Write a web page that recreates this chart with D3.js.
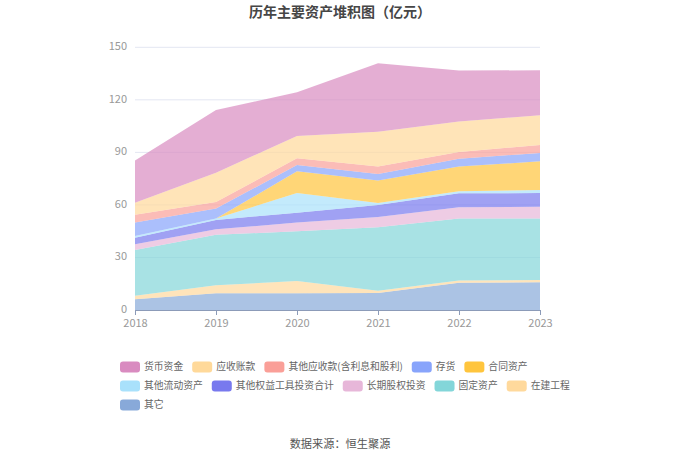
<!DOCTYPE html>
<html>
<head>
<meta charset="utf-8">
<script src="https://cdn.jsdelivr.net/npm/d3@7"></script>
<style>
  body { margin: 0; background: #fff; }
  svg { font-family: "Noto Sans CJK SC", "Noto Sans", sans-serif; }
</style>
</head>
<body>
<svg id="chart" width="680" height="460"></svg>
<script>
// years on the x axis
const years = ["2018", "2019", "2020", "2021", "2022", "2023"]
const yTicks = [0, 30, 60, 90, 120, 150]

// values in 亿元
const huobi = [24.0, 35.8, 24.9, 39.1, 29.1, 25.7]       // 货币资金
const yingshou = [6.9, 16.7, 12.8, 19.8, 17.4, 17.0]     // 应收账款
const qitaYingshou = [4.5, 3.8, 3.8, 4.3, 3.8, 4.5]      // 其他应收款
const cunhuo = [7.6, 5.7, 3.6, 3.8, 4.5, 4.8]            // 存货
const hetong = [0, 0, 12.4, 12.8, 14.1, 16.4]            // 合同资产
const qitaLiudong = [1.0, 0.8, 11.2, 1.1, 1.2, 1.7]      // 其他流动资产
const qitaQuanyi = [3.8, 5.3, 5.7, 6.9, 8.0, 7.8]        // 其他权益工具投资合计
const changqi = [3.2, 3.1, 5.0, 5.9, 6.4, 6.8]           // 长期股权投资
const guding = [26.1, 28.9, 28.3, 36.2, 35.3, 35.1]      // 固定资产
const zaijian = [2.1, 4.6, 7.1, 1.3, 1.3, 1.3]           // 在建工程
const qita = [6.1, 9.5, 9.5, 9.7, 15.6, 15.8]            // 其它

// legend order
const seriesNames = ["货币资金", "应收账款", "其他应收款(含利息和股利)", "存货", "合同资产",
  "其他流动资产", "其他权益工具投资合计", "长期股权投资", "固定资产", "在建工程", "其它"]
const seriesValues = [huobi, yingshou, qitaYingshou, cunhuo, hetong,
  qitaLiudong, qitaQuanyi, changqi, guding, zaijian, qita]
const colors = ["#d98bc0", "#ffd99a", "#fa9f98", "#88a4fb", "#ffc53d",
  "#a9e1fb", "#7879ee", "#e7b7d9", "#83d6d9", "#ffd99c", "#88a9d9"]

const svg = d3.select("#chart")

// build table, one row per year
const table = years.map((yr, i) => {
  const row = { year: yr }
  seriesNames.forEach((n, k) => { row[n] = seriesValues[k][i] })
  return row
})

// stack from bottom (其它) to top (货币资金)
const stackKeys = seriesNames.slice().reverse()
const stacked = d3.stack().keys(stackKeys)(table)

const x = d3.scalePoint().domain(years).range([135, 540])
const y = d3.scaleLinear().domain([0, 150]).range([310, 47.3])

// grid lines
svg.append("g").selectAll("line")
  .data(yTicks.filter(t => t > 0))
  .join("line")
  .attr("x1", 135).attr("x2", 540)
  .attr("y1", d => y(d)).attr("y2", d => y(d))
  .attr("stroke", "#e3e6f2")
  .attr("stroke-width", 1)

const area = d3.area()
  .x(d => x(d.data.year))
  .y0(d => y(d[0]))
  .y1(d => y(d[1]))

svg.append("g").selectAll("path")
  .data(stacked)
  .join("path")
  .attr("d", area)
  .attr("fill", d => colors[seriesNames.indexOf(d.key)])
  .attr("fill-opacity", 0.7)

// y axis labels
svg.append("g").selectAll("text")
  .data(yTicks)
  .join("text")
  .attr("x", 127)
  .attr("y", d => y(d) - 1)
  .attr("dy", "0.35em")
  .attr("text-anchor", "end")
  .attr("font-size", 11)
  .attr("fill", "#999")
  .text(d => d)

// x axis
const xAxis = svg.append("g")
  .attr("transform", "translate(0,310)")
  .call(d3.axisBottom(x).tickSize(5).tickPadding(4))
xAxis.select(".domain").attr("stroke", "#8c9bb8").attr("d", "M135,0.5H540")
xAxis.selectAll(".tick line").attr("stroke", "#8c9bb8")
xAxis.selectAll(".tick text")
  .attr("font-size", 11)
  .attr("fill", "#999")
  .attr("font-family", "\"Noto Sans CJK SC\", sans-serif")

// title
svg.append("text")
  .attr("x", 340).attr("y", 17)
  .attr("text-anchor", "middle")
  .attr("font-size", 14)
  .attr("font-weight", "bold")
  .attr("fill", "#464646")
  .text("历年主要资产堆积图（亿元）")

// legend, flowing rows
const legend = svg.append("g")
let lx = 120, ly = 367
const rowEnd = 570
seriesNames.forEach((name, k) => {
  const item = legend.append("g")
  const t = item.append("text")
    .attr("font-size", 9.8)
    .attr("fill", "#666")
    .attr("dy", "0.35em")
    .text(name)
  const w = t.node().getComputedTextLength()
  if (lx + 24 + w > rowEnd) { lx = 120; ly += 19 }
  item.append("rect")
    .attr("x", lx).attr("y", ly - 5.5)
    .attr("width", 20).attr("height", 11)
    .attr("rx", 3)
    .attr("fill", colors[k])
  t.attr("x", lx + 24).attr("y", ly)
  lx += 24 + w + 9
})

// source note
svg.append("text")
  .attr("x", 340).attr("y", 448)
  .attr("text-anchor", "middle")
  .attr("font-size", 11.2)
  .attr("fill", "#555")
  .text("数据来源：恒生聚源")
</script>
</body>
</html>
